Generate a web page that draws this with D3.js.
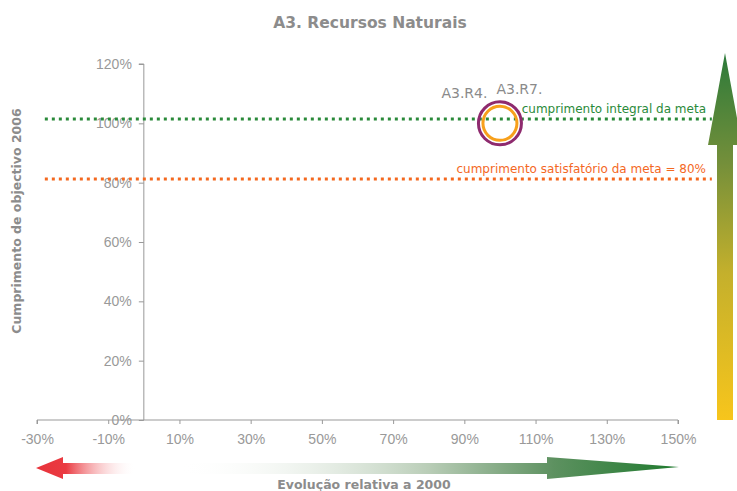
<!DOCTYPE html>
<html>
<head>
<meta charset="utf-8">
<script src="https://cdn.jsdelivr.net/npm/d3@7"></script>
<style>
  body { margin: 0; background: #fff; }
  svg { display: block; font-family: "DejaVu Sans", Verdana, sans-serif; }
</style>
</head>
<body>
<svg id="chart" width="737" height="491"></svg>
<script>
// **** Data
const xTicks = [-30, -10, 10, 30, 50, 70, 90, 110, 130, 150];
const yTicks = [0, 20, 40, 60, 80, 100, 120];

const pointNames = ["A3.R4.", "A3.R7."];
const pointX = [100, 100];
const pointY = [100, 100];
const pointColors = ["#8e2a6e", "#f7a01c"];

const refLabels = ["cumprimento integral da meta", "cumprimento satisfatório da meta = 80%"];
const refValues = [101.5, 81.2];
const refColors = ["#2a8a3a", "#f4681f"];
const refExtent = [-27.8, 159.5];

// **** Setup
const svg = d3.select("#chart");

const x = d3.scaleLinear().domain([-30, 150]).range([37, 678]);
const y = d3.scaleLinear().domain([0, 120]).range([420, 64]);

const grey = "#999";
const titleGrey = "#8c8c8c";
const defs = svg.append("defs");

// Title
svg.append("text")
  .attr("x", 370).attr("y", 28)
  .attr("text-anchor", "middle")
  .attr("font-size", 15.5).attr("font-weight", "bold")
  .attr("fill", titleGrey)
  .text("A3. Recursos Naturais");

// **** Axes
const xAxis = svg.append("g")
  .attr("transform", `translate(0,${y(0)})`)
  .call(d3.axisBottom(x).tickValues(xTicks).tickSize(4).tickPadding(10)
    .tickFormat(d => d + "%"));

const yAxis = svg.append("g")
  .attr("transform", `translate(${x(0)},0)`)
  .call(d3.axisLeft(y).tickValues(yTicks).tickSize(5).tickPadding(7)
    .tickFormat(d => d + "%"));

[xAxis, yAxis].forEach(g => {
  g.select(".domain").attr("stroke", grey);
  g.selectAll(".tick line").attr("stroke", grey);
  g.selectAll(".tick text")
    .attr("fill", grey)
    .attr("font-size", 14)
    .attr("font-family", "Liberation Sans, Arial, sans-serif");
});
yAxis.select(".domain").attr("d", `M-5,${y(120)}H0V${y(0)}`);
xAxis.select(".domain").attr("d", `M${x(-30)},4V0H${x(150)}V4`);

// Axis titles
svg.append("text")
  .attr("transform", `translate(21,221) rotate(-90)`)
  .attr("text-anchor", "middle")
  .attr("font-size", 12.5).attr("font-weight", "bold")
  .attr("fill", titleGrey)
  .text("Cumprimento de objectivo 2006");

svg.append("text")
  .attr("x", 364).attr("y", 489)
  .attr("text-anchor", "middle")
  .attr("font-size", 12.5).attr("font-weight", "bold")
  .attr("fill", titleGrey)
  .text("Evolução relativa a 2000");

// **** Reference lines
refValues.forEach((v, i) => {
  svg.append("line")
    .attr("x1", x(refExtent[0])).attr("x2", x(refExtent[1]))
    .attr("y1", y(v)).attr("y2", y(v))
    .attr("stroke", refColors[i])
    .attr("stroke-width", 3)
    .attr("stroke-dasharray", "3,4");
  svg.append("text")
    .attr("x", 706).attr("y", y(v) - 6)
    .attr("text-anchor", "end")
    .attr("font-size", 12)
    .attr("fill", refColors[i])
    .text(refLabels[i]);
});

// **** Points
const radius = [21.5, 17];
const labelOff = [[-35.5, -25], [19.5, -29]];
pointNames.forEach((n, i) => {
  svg.append("circle")
    .attr("cx", x(pointX[i])).attr("cy", y(pointY[i]))
    .attr("r", radius[i])
    .attr("fill", "none")
    .attr("stroke", pointColors[i])
    .attr("stroke-width", 3);
  svg.append("text")
    .attr("x", x(pointX[i]) + labelOff[i][0]).attr("y", y(pointY[i]) + labelOff[i][1])
    .attr("text-anchor", "middle")
    .attr("font-size", 14)
    .attr("fill", "#8a8a8a")
    .text(n);
});

// **** Bottom arrows
const redGrad = defs.append("linearGradient").attr("id", "redGrad")
  .attr("gradientUnits", "userSpaceOnUse")
  .attr("x1", 36).attr("x2", 136).attr("y1", 0).attr("y2", 0);
redGrad.append("stop").attr("offset", 0).attr("stop-color", "#e8323a");
redGrad.append("stop").attr("offset", 0.3).attr("stop-color", "#ea3b42");
redGrad.append("stop").attr("offset", 1).attr("stop-color", "#ffffff").attr("stop-opacity", 0);

svg.append("path")
  .attr("d", "M36,468 L63,457 L63,463 L136,463 L136,474 L63,474 L63,479 Z")
  .attr("fill", "url(#redGrad)");

const greenGrad = defs.append("linearGradient").attr("id", "greenGrad")
  .attr("gradientUnits", "userSpaceOnUse")
  .attr("x1", 178).attr("x2", 679).attr("y1", 0).attr("y2", 0);
greenGrad.append("stop").attr("offset", 0).attr("stop-color", "#ffffff").attr("stop-opacity", 0);
greenGrad.append("stop").attr("offset", 0.5).attr("stop-color", "#b9cdb7");
greenGrad.append("stop").attr("offset", 0.75).attr("stop-color", "#5d9160");
greenGrad.append("stop").attr("offset", 1).attr("stop-color", "#1f7a2e");

svg.append("path")
  .attr("d", "M178,463 L547,463 L547,457 L679,467 L547,479 L547,474 L178,474 Z")
  .attr("fill", "url(#greenGrad)");

// **** Vertical arrow
const vGrad = defs.append("linearGradient").attr("id", "vGrad")
  .attr("gradientUnits", "userSpaceOnUse")
  .attr("x1", 0).attr("x2", 0).attr("y1", 53).attr("y2", 420);
vGrad.append("stop").attr("offset", 0).attr("stop-color", "#2c7a3a");
vGrad.append("stop").attr("offset", 0.3).attr("stop-color", "#748f3a");
vGrad.append("stop").attr("offset", 0.6).attr("stop-color", "#c4b02c");
vGrad.append("stop").attr("offset", 1).attr("stop-color", "#f7c51c");

svg.append("path")
  .attr("d", "M725,53 L742,145 L733,145 L733,420 L717,420 L717,145 L708,145 Z")
  .attr("fill", "url(#vGrad)");
</script>
</body>
</html>
